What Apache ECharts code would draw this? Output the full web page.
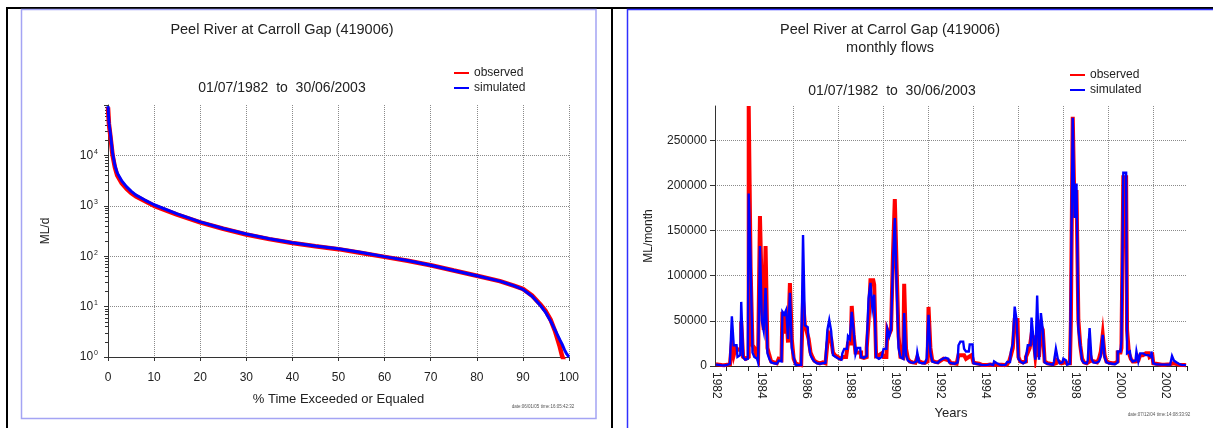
<!DOCTYPE html>
<html>
<head>
<meta charset="utf-8">
<script src="https://cdn.jsdelivr.net/npm/echarts@6/dist/echarts.min.js"></script>
</head>
<body style="margin:0;background:#fff">
<div id="main" style="width:1213px;height:428px"></div>
<script>
// left: flow duration curve, daily flows (ML/d) against % of time exceeded
const pctExceeded = [0, 0.2, 0.5, 1, 1.5, 2, 3, 4, 5, 6, 8, 10, 15, 20, 25, 30, 35, 40, 45, 50,
  55, 60, 65, 70, 75, 80, 85, 88, 90, 92, 94, 95, 96, 97, 98, 98.5, 99, 99.5, 100];
const observedDaily = [90000, 42000, 25000, 10000, 5800, 4000, 2800, 2200, 1800, 1550, 1250, 1000, 670, 470, 350, 270, 218, 182, 158, 138,
  116, 97, 81, 66, 52, 41, 32, 26, 22.5, 16.5, 10.5, 8, 5.5, 3.2, 1.6, 1.05, 0.8, null, null];
const simulatedDaily = [95000, 45000, 28000, 11000, 6300, 4500, 3100, 2400, 1950, 1650, 1300, 1050, 690, 480, 355, 275, 222, 185, 160, 140,
  118, 98, 82, 66, 52, 41, 32, 26, 22, 16, 10, 7.5, 5.2, 3.4, 2.2, 1.8, 1.4, 1.15, 1];

// right: monthly flows (ML/month), one value per month, Jul 1982 .. Jun 2003
const observedMonthly = [
  2000, 1500, 1200, 1000, 800, 900, 1500, 2000, 3000, 26000, 12000, 20000,
  18000, 18000, 49000, 10000, 8000, 10000, 288000, 110000, 23000, 20000, 12000, 8000,
  166000, 79000, 40000, 133000, 20000, 12000, 5000, 4000, 3000, 4000, 8000, 7000,
  60000, 36000, 60000, 26000, 92000, 30000, 8000, 3000, 1500, 1000, 1500, 72000,
  45000, 38000, 30000, 15000, 10000, 6000, 4000, 3000, 3500, 4000, 3000, 5000,
  25000, 34500, 30000, 15000, 12000, 10000, 8000, 6000, 10000, 10000, 12000, 25000,
  25000, 66500, 35000, 15000, 15000, 15000, 10000, 9000, 10000, 20000, 50000, 95000,
  95000, 90000, 11000, 12000, 14000, 12000, 10000, 10000, 40000, 35000, 40000, 123000,
  185000, 107000, 33000, 10000, 9000, 91000, 19000, 8000, 5000, 4000, 3500, 4000,
  10000, 5000, 4000, 3500, 3000, 5000, 65400, 20000, 6000, 4500, 4000, 5000,
  6000, 8000, 8000, 7000, 6000, 4000, 3000, 3000, 2500, 3000, 12000, 12000,
  12000, 10000, 8000, 10000, 12000, 12000, 4000, 3000, 2500, 1500, 1200, 1000,
  1200, 1000, 1500, 1200, 1000, 1500, 2000, 1500, 1500, 1200, 1000, 2000,
  4000, 5000, 12000, 20000, 51000, 51000, 10000, 5000, 4000, 5000, 10000, 15000,
  20000, 34500, 32000, 12000, 32000, 10000, 44000, 40000, 5000, 3000, 2500, 2000,
  2000, 3000, 7000, 5000, 3000, 3000, 4000, 3000, 1500, 3000, 49000, 276000,
  165000, 195000, 51000, 23000, 8000, 4000, 3000, 5000, 14000, 6000, 5000, 4000,
  4000, 8000, 16000, 34500, 12000, 5000, 3500, 3000, 2500, 3000, 5000, 15000,
  15000, 20000, 209000, 209000, 40000, 14000, 8000, 5000, 5000, 6000, 5000, 12000,
  12000, 14000, 12000, 14000, 10000, 12000, 3000, 2500, 2000, 1800, 1500, 1500,
  1500, 1800, 2000, 2000, 3000, 2500, 2000, 1500, 1200, 1000, 1000, 800
];
const simulatedMonthly = [
  1500, 1200, 900, 700, 600, 800, 1200, 2500, 5000, 55000, 23000, 23000,
  10000, 12000, 71000, 10000, 7000, 8000, 191000, 117000, 15000, 10000, 8000, 4000,
  133000, 50000, 39000, 86500, 14000, 8000, 4000, 3000, 2500, 3000, 6000, 5000,
  60000, 57000, 62000, 30000, 81000, 20000, 10000, 1500, 1000, 1000, 2000, 145000,
  45000, 43000, 25000, 12000, 8000, 5000, 3000, 2500, 4000, 3000, 3500, 6000,
  40000, 51000, 39000, 12000, 10000, 8000, 10000, 7000, 14000, 19000, 19000, 33000,
  30000, 60000, 40000, 13000, 20000, 20000, 10000, 9000, 11000, 23000, 75000, 92000,
  64000, 79000, 10000, 8000, 10000, 11000, 19000, 19000, 41000, 33000, 41000, 114000,
  164000, 88000, 20000, 10000, 8000, 58600, 12000, 6000, 4000, 3500, 3000, 5000,
  15000, 4000, 3000, 3000, 3500, 8000, 56800, 15000, 5000, 4000, 3500, 5000,
  6000, 8000, 9000, 10000, 8000, 4000, 3000, 2500, 3000, 4000, 23000, 27000,
  27000, 19000, 16000, 16000, 24000, 24000, 3000, 2500, 2000, 1500, 1000, 1000,
  1500, 1200, 2000, 1500, 1000, 5000, 3000, 1500, 1200, 1000, 1000, 1500,
  4500, 4500, 16000, 25000, 65800, 51000, 8000, 5000, 3000, 5000, 10000, 23000,
  23000, 53600, 30000, 7000, 78000, 7000, 58600, 40000, 4000, 2500, 2000, 1500,
  1500, 5000, 19000, 8000, 3000, 4000, 8000, 6000, 1500, 2500, 80600, 275000,
  164000, 202000, 41000, 23000, 6000, 3500, 3000, 6000, 42000, 8000, 4000, 3500,
  5000, 6000, 11000, 34500, 10000, 4000, 3000, 2500, 2500, 2000, 4000, 16000,
  16000, 28000, 214000, 214000, 14000, 16000, 8000, 5000, 6000, 16000, 5000, 14000,
  14000, 12000, 13000, 12000, 10000, 16000, 3000, 2000, 1800, 1500, 1500, 1500,
  1200, 1500, 1500, 2500, 11000, 6000, 4000, 2000, 1500, 1000, 1000, 1000
];

// month categories 'YYYY-MM'
const months = [];
for (let m = 0; m < observedMonthly.length; m++) {
  const yr = 1982 + Math.floor((m + 6) / 12);
  const mo = (m + 6) % 12 + 1;
  months.push(yr + '-' + String(mo).padStart(2, '0'));
}

const FONT = 'Liberation Sans, Arial, sans-serif';
const INK = '#222';
const RED = '#ff0000';
const BLUE = '#0000ff';

const isJan = (i, v) => v.slice(5) === '01';
const isEvenJan = (i, v) => v.slice(5) === '01' && (+v.slice(0, 4)) % 2 === 0;
const isEvenJul = (i, v) => v.slice(5) === '07' && (+v.slice(0, 4)) % 2 === 0;

const gridLine = { show: true, lineStyle: { color: '#8a8a8a', type: 'dotted', width: 1 } };

function txt(x, y, text, size, fill) {
  return {
    type: 'text', x: x, y: y, z: 10,
    style: { text: text, fill: fill || INK, font: size + 'px ' + FONT, textAlign: 'center', textVerticalAlign: 'middle' }
  };
}

var dom = document.getElementById('main');
var myChart = echarts.init(dom, null, { renderer: 'canvas' });

var option = {
  animation: false,
  backgroundColor: '#fff',
  textStyle: { fontFamily: FONT, color: INK },
  grid: [
    { left: 108, top: 105, width: 461, height: 252, outerBoundsMode: 'none' },
    { left: 715, top: 106, width: 472, height: 260, outerBoundsMode: 'none' }
  ],
  legend: [
    {
      left: 449, top: 62, orient: 'vertical', icon: 'rect', itemWidth: 15, itemHeight: 2, itemGap: 3,
      data: ['observed', 'simulated'], textStyle: { fontSize: 12, color: INK, fontFamily: FONT }, selectedMode: false
    },
    {
      left: 1065, top: 64, orient: 'vertical', icon: 'rect', itemWidth: 15, itemHeight: 2, itemGap: 3,
      data: ['observed', 'simulated'], textStyle: { fontSize: 12, color: INK, fontFamily: FONT }, selectedMode: false
    }
  ],
  xAxis: [
    {
      gridIndex: 0, type: 'value', min: 0, max: 100, interval: 10,
      axisLine: { show: true, lineStyle: { color: '#333' } },
      axisTick: { show: true, length: 4, lineStyle: { color: '#333' } },
      axisLabel: { margin: 15, fontSize: 12, color: INK, fontFamily: FONT },
      splitLine: Object.assign({ showMinLine: false }, gridLine),
      name: '% Time Exceeded or Equaled', nameLocation: 'middle', nameGap: 36,
      nameTextStyle: { fontSize: 13, color: INK, fontFamily: FONT }
    },
    {
      gridIndex: 1, type: 'category', data: months, boundaryGap: true,
      axisLine: { show: true, lineStyle: { color: '#222' } },
      axisTick: { show: true, interval: isJan, length: 5, lineStyle: { color: '#222' } },
      axisLabel: {
        interval: isEvenJul, rotate: -90, margin: 6, fontSize: 12, color: INK, fontFamily: FONT,
        formatter: v => v.slice(0, 4)
      },
      splitLine: Object.assign({ interval: isEvenJan, showMinLine: false, showMaxLine: false }, gridLine),
      name: 'Years', nameLocation: 'middle', nameGap: 37,
      nameTextStyle: { fontSize: 13, color: INK, fontFamily: FONT }
    }
  ],
  yAxis: [
    {
      gridIndex: 0, type: 'log', logBase: 10, min: 1, max: 100000,
      axisLine: { show: true, lineStyle: { color: '#333' } },
      axisTick: { show: true, length: 4, lineStyle: { color: '#333' } },
      minorTick: { show: true, splitNumber: 9, length: 3, lineStyle: { color: '#333' } },
      axisLabel: {
        margin: 10, showMaxLabel: false, color: INK, fontFamily: FONT,
        formatter: v => '{b|10}{s|' + Math.round(Math.log10(v)) + '}',
        rich: {
          b: { fontSize: 12, color: INK, fontFamily: FONT, lineHeight: 14 },
          s: { fontSize: 7, color: INK, fontFamily: FONT, verticalAlign: 'top', lineHeight: 8, padding: [0, 0, 0, 1] }
        }
      },
      splitLine: Object.assign({ showMaxLine: false, showMinLine: false }, gridLine),
      name: 'ML/d', nameLocation: 'middle', nameGap: 56, nameRotate: 90,
      nameTextStyle: { fontSize: 12, color: INK, fontFamily: FONT }
    },
    {
      gridIndex: 1, type: 'value', min: 0, max: 288000, interval: 50000,
      axisLine: { show: true, lineStyle: { color: '#333' } },
      axisTick: { show: true, length: 5, lineStyle: { color: '#333' } },
      axisLabel: { margin: 8, showMaxLabel: false, fontSize: 12, color: INK, fontFamily: FONT, formatter: v => String(v) },
      splitLine: Object.assign({ showMaxLine: false, showMinLine: false }, gridLine),
      name: 'ML/month', nameLocation: 'middle', nameGap: 60, nameRotate: 90,
      nameTextStyle: { fontSize: 12, color: INK, fontFamily: FONT }
    }
  ],
  series: [
    {
      name: 'observed', type: 'line', xAxisIndex: 0, yAxisIndex: 0, symbol: 'none',
      data: pctExceeded.map((p, i) => [p, observedDaily[i]]),
      itemStyle: { color: RED }, lineStyle: { color: RED, width: 4.5 }
    },
    {
      name: 'simulated', type: 'line', xAxisIndex: 0, yAxisIndex: 0, symbol: 'none',
      data: pctExceeded.map((p, i) => [p, simulatedDaily[i]]),
      itemStyle: { color: BLUE }, lineStyle: { color: BLUE, width: 3 }
    },
    {
      name: 'observed', type: 'line', xAxisIndex: 1, yAxisIndex: 1, symbol: 'none', step: 'middle',
      data: observedMonthly,
      itemStyle: { color: RED }, lineStyle: { color: RED, width: 4, join: 'miter' }
    },
    {
      name: 'simulated', type: 'line', xAxisIndex: 1, yAxisIndex: 1, symbol: 'none', step: 'middle',
      data: simulatedMonthly,
      itemStyle: { color: BLUE }, lineStyle: { color: BLUE, width: 2.4, join: 'miter' }
    }
  ],
  graphic: [
    // outer page frame and panel divider
    { type: 'rect', z: -10, shape: { x: 6, y: 7, width: 1207, height: 2 }, style: { fill: '#000' } },
    { type: 'rect', z: -10, shape: { x: 6, y: 7, width: 2, height: 421 }, style: { fill: '#000' } },
    { type: 'rect', z: -10, shape: { x: 611, y: 7, width: 2, height: 421 }, style: { fill: '#000' } },
    // panel borders
    { type: 'rect', z: -10, shape: { x: 21.5, y: 9.5, width: 574.5, height: 409 }, style: { fill: 'none', stroke: '#a4a4f4', lineWidth: 1.5 } },
    { type: 'rect', z: -10, shape: { x: 627.5, y: 9.5, width: 700, height: 500 }, style: { fill: 'none', stroke: '#3030ff', lineWidth: 1.5 } },
    // titles
    txt(282, 30, 'Peel River at Carroll Gap (419006)', 14.5),
    txt(282, 88, '01/07/1982  to  30/06/2003', 14),
    txt(890, 30, 'Peel River at Carrol Gap (419006)', 14.5),
    txt(890, 48, 'monthly flows', 14.5),
    txt(892, 91, '01/07/1982  to  30/06/2003', 14),
    // time stamps
    txt(543, 407, 'date:06/01/05 time:16:05:42:32', 4.5, '#555'),
    txt(1159, 415, 'date:07/12/04 time:14:08:33:92', 4.5, '#555')
  ]
};

if (option && typeof option === 'object') {
  myChart.setOption(option);
}
window.addEventListener('resize', myChart.resize);
</script>
</body>
</html>
